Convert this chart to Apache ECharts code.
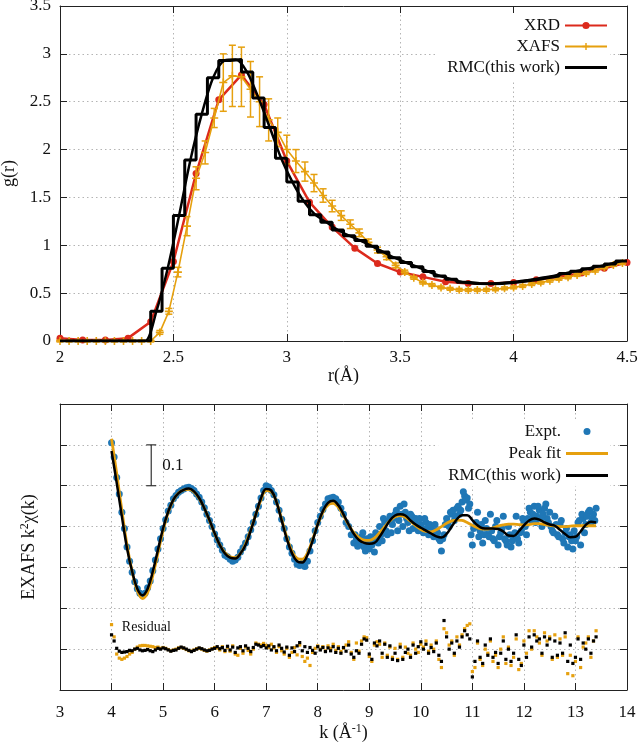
<!DOCTYPE html>
<html><head><meta charset="utf-8">
<script src="https://cdn.jsdelivr.net/npm/echarts@6/dist/echarts.min.js"></script>
<style>html,body{margin:0;padding:0;background:#fff}#c{width:640px;height:743px}</style>
</head><body><div id="c"></div>
<script>
// ---------- top panel: g(r) ----------
const rXRD = [2.0,2.1,2.2,2.3,2.4,2.5,2.6,2.7,2.8,2.9,3.0,3.1,3.2,3.3,3.4,3.5,3.6,3.7,3.8,3.9,4.0,4.1,4.2,4.3,4.4,4.5];
const gXRD = [0.03,0.01,0.01,0.03,0.2,0.83,1.75,2.52,2.78,2.47,1.88,1.45,1.19,0.97,0.81,0.72,0.67,0.62,0.6,0.6,0.61,0.64,0.67,0.71,0.76,0.82];

const rXAFSstart = 2.0, rXAFSstep = 0.04;
const gXAFS = [0,0,0,0,0,0,0,0,0,0,0,0.09,0.31,0.72,1.2,1.7,1.97,2.33,2.70,2.77,2.76,2.63,2.50,2.31,2.18,2.00,1.88,1.77,1.65,1.52,1.41,1.31,1.22,1.13,1.03,0.95,0.88,0.79,0.72,0.66,0.61,0.585,0.56,0.545,0.535,0.533,0.533,0.535,0.54,0.55,0.56,0.575,0.595,0.61,0.63,0.65,0.665,0.69,0.71,0.735,0.77,0.795,0.815];
const eXAFS = [0.01,0.01,0.01,0.01,0.01,0.01,0.01,0.01,0.01,0.01,0.01,0.02,0.03,0.05,0.1,0.12,0.12,0.1,0.3,0.32,0.31,0.29,0.26,0.22,0.15,0.15,0.12,0.1,0.09,0.07,0.06,0.05,0.045,0.04,0.035,0.03,0.03,0.025,0.02,0.015,0.015,0.015,0.015,0.015,0.015,0.015,0.015,0.015,0.015,0.015,0.015,0.015,0.015,0.015,0.015,0.015,0.015,0.015,0.015,0.015,0.015,0.015,0.015];

const rRMCstart = 2.0, rRMCbin = 0.05;
const gRMC = [0,0,0,0,0,0,0,0,0.31,0.76,1.31,1.89,2.37,2.75,2.93,2.94,2.81,2.54,2.23,1.91,1.66,1.46,1.32,1.24,1.16,1.10,1.05,0.99,0.93,0.87,0.82,0.775,0.725,0.68,0.645,0.615,0.60,0.598,0.60,0.61,0.625,0.64,0.66,0.68,0.705,0.73,0.755,0.78,0.805,0.835];

// ---------- bottom panel: EXAFS ----------
const kCurveStart = 4.0, kCurveStep = 0.1;
const peakFit = [0.215,0.13,0.04,-0.045,-0.11,-0.157,-0.176,-0.162,-0.12,-0.065,
-0.01,0.035,0.065,0.082,0.09,0.091,0.085,0.069,0.045,0.015,
-0.017,-0.045,-0.064,-0.074,-0.076,-0.066,-0.042,-0.008,0.03,0.066,
0.088,0.085,0.06,0.018,-0.026,-0.06,-0.078,-0.08,-0.065,-0.032,
0.005,0.035,0.053,0.057,0.047,0.027,0.004,-0.015,-0.027,-0.033,
-0.034,-0.028,-0.015,0.0,0.014,0.024,0.027,0.023,0.013,0.002,
-0.007,-0.012,-0.013,-0.008,0.0,0.008,0.014,0.016,0.015,0.01,
0.003,-0.003,-0.006,-0.006,-0.003,0.001,0.004,0.006,0.006,0.005,
0.004,0.005,0.007,0.007,0.005,0.003,0.001,0.0,0.0,0.001,
0.002,0.002,0.002,0.002,0.002];
const rmcChi = [0.185,0.107,0.025,-0.053,-0.11,-0.152,-0.168,-0.152,-0.11,-0.057,
-0.004,0.037,0.066,0.082,0.09,0.093,0.086,0.07,0.045,0.016,
-0.016,-0.045,-0.066,-0.076,-0.078,-0.066,-0.045,-0.01,0.03,0.07,
0.092,0.088,0.06,0.015,-0.03,-0.065,-0.085,-0.088,-0.07,-0.035,
0.005,0.038,0.058,0.063,0.052,0.03,0.005,-0.018,-0.033,-0.04,
-0.042,-0.04,-0.025,-0.005,0.015,0.027,0.03,0.027,0.015,0.005,
-0.003,-0.01,-0.017,-0.024,-0.027,-0.018,0.0,0.018,0.028,0.028,
0.016,0.003,-0.004,-0.005,-0.005,-0.006,-0.012,-0.022,-0.023,-0.012,
0.003,0.015,0.02,0.017,0.01,0.005,0.002,-0.008,-0.018,-0.026,
-0.025,-0.012,0.004,0.012,0.01];

const kExpStart = 4.0, kExpStep = 0.05;
const expt = [0.205,0.17,0.12,0.08,0.035,-0.005,-0.05,-0.085,-0.112,-0.135,
-0.152,-0.163,-0.168,-0.163,-0.15,-0.133,-0.108,-0.082,-0.055,-0.03,
-0.005,0.017,0.038,0.052,0.068,0.076,0.084,0.088,0.092,0.095,
0.096,0.093,0.088,0.08,0.072,0.06,0.046,0.03,0.015,0.0,
-0.018,-0.033,-0.045,-0.058,-0.07,-0.074,-0.08,-0.085,-0.082,-0.075,
-0.062,-0.052,-0.04,-0.025,-0.008,0.01,0.03,0.05,0.07,0.088,
0.1,0.097,0.088,0.078,0.06,0.04,0.018,-0.005,-0.03,-0.05,
-0.065,-0.08,-0.092,-0.095,-0.09,-0.098,-0.085,-0.06,-0.035,-0.01,
0.01,0.025,0.042,0.055,0.068,0.07,0.072,0.068,0.06,0.045,
0.03,0.01,0.0,-0.02,-0.04,-0.03,-0.045,-0.025,-0.05,-0.03,
-0.055,-0.045,-0.062,-0.03,0.0,-0.035,0.01,-0.02,0.025,0.005,
0.03,-0.01,0.05,0.0,0.035,0.01,0.03,-0.005,0.02,-0.01,
0.005,-0.015,0.01,-0.02,-0.005,-0.025,-0.01,-0.03,-0.06,-0.02,
0.02,0.0,0.03,0.015,0.045,0.03,0.06,0.075,0.07,0.055,
-0.045,0.0,0.035,-0.01,-0.04,0.015,-0.02,0.03,-0.03,0.0,
-0.045,-0.015,0.025,-0.035,0.0,-0.05,-0.02,0.025,-0.04,-0.01,
0.01,-0.02,0.045,0.015,0.05,0.025,0.04,0.0,0.045,0.02,
0.035,-0.01,0.025,-0.02,0.005,-0.03,-0.015,-0.05,-0.02,-0.055,
-0.035,0.01,-0.045,0.02,0.005,0.035,0.01,0.03,0.045];
const kExp2Start = 8.725, kExp2Step = 0.05;
const expt2 = [-0.02,-0.048,-0.035,-0.015,-0.06,-0.04,-0.025,-0.035,-0.015,-0.04,
-0.02,0.02,-0.01,0.015,-0.015,0.02,0.04,0.015,0.03,0.055,
0.02,-0.01,0.025,0.015,0.005,0.02,-0.005,0.02,-0.005,0.005,
-0.02,0.005,-0.015,-0.035,-0.03,0.005,0.01,0.035,0.04,0.025,
0.05,0.04,0.085,0.065,0.045,-0.02,-0.005,0.01,-0.025,0.005,
-0.02,-0.005,-0.025,-0.01,-0.035,0.015,-0.025,-0.005,-0.03,-0.045,
-0.02,-0.035,-0.015,-0.03,-0.015,0.02,0.0,0.02,0.035,0.03,
0.01,0.05,0.02,0.03,0.055,0.01,0.0,-0.015,0.005,-0.025,
0.015,-0.04,-0.005,-0.025,-0.035,-0.01,-0.025,0.015,0.03,-0.015,
0.025,0.04,0.02,0.015];

const residualOffset = -0.3;
const resRMC = [0.035,0.02,0.002,-0.005,-0.008,-0.007,-0.006,-0.003,-0.004,0.0,
0.002,-0.002,-0.004,-0.003,-0.001,-0.004,-0.006,-0.002,0.002,0.0,
0.003,0.001,-0.002,-0.005,-0.003,-0.002,0.002,0.005,0.003,0.0,
-0.003,-0.006,-0.003,0.0,0.003,0.001,-0.002,-0.004,-0.003,0.0,
0.002,0.006,0.001,0.004,-0.003,0.007,-0.002,0.005,-0.008,0.003,
0.006,-0.004,0.008,0.002,-0.006,0.004,0.012,0.01,0.006,0.009,
0.003,0.008,-0.002,0.006,-0.004,0.01,0.002,-0.007,0.005,-0.015,
0.003,-0.006,0.008,0.016,-0.004,0.006,-0.008,0.004,-0.003,-0.01,
0.006,-0.002,0.004,-0.006,0.003,-0.004,0.006,-0.008,0.002,-0.01,
0.004,-0.005,0.01,-0.012,-0.02,-0.004,-0.01,0.012,0.025,0.022,
-0.012,-0.025,0.015,0.008,0.02,-0.01,0.012,-0.02,0.008,-0.025,
-0.01,-0.028,0.005,-0.025,-0.008,0.0,-0.02,0.01,-0.01,0.006,
0.018,0.0,0.012,-0.01,0.004,-0.006,0.015,-0.015,-0.03,0.07,
0.03,0.0,0.015,-0.01,0.02,0.005,0.03,0.045,0.035,0.025,
-0.068,-0.03,0.02,-0.02,-0.035,0.01,-0.015,0.025,-0.02,-0.008,
-0.035,-0.01,0.02,-0.025,0.0,-0.03,-0.01,0.035,-0.025,-0.04,
0.01,-0.02,0.03,0.005,0.035,0.02,0.025,-0.01,0.03,0.01,
0.025,-0.02,0.02,-0.015,0.015,-0.01,0.04,-0.03,0.01,-0.035,
-0.02,0.025,-0.025,0.015,0.0,0.025,-0.01,0.02,0.03];
const resPF = [0.06,0.03,-0.012,-0.022,-0.025,-0.022,-0.018,-0.012,-0.008,0.0,
0.005,0.008,0.009,0.009,0.008,0.007,0.006,0.004,0.005,0.002,
0.004,0.002,-0.001,-0.004,-0.002,0.0,0.003,0.004,0.002,-0.001,
-0.004,-0.005,-0.002,0.001,0.002,0.0,-0.003,-0.005,-0.002,0.001,
0.004,0.003,-0.002,0.006,-0.006,0.004,-0.005,0.008,-0.012,-0.015,
0.002,-0.01,0.005,-0.003,-0.012,0.0,0.015,0.012,0.01,0.014,
0.009,0.004,0.012,0.003,-0.008,0.006,-0.004,-0.012,0.002,-0.02,
-0.008,0.004,-0.014,0.01,-0.018,-0.03,-0.022,-0.04,-0.008,0.002,
0.008,0.0,0.006,-0.004,0.008,0.002,0.012,-0.003,0.006,-0.006,
0.002,0.01,0.018,-0.008,-0.025,0.015,-0.005,0.02,0.03,0.028,
-0.018,-0.03,0.01,0.018,0.012,-0.02,0.015,-0.015,0.005,-0.02,
0.002,-0.025,0.012,-0.02,0.005,-0.01,-0.015,0.015,0.0,-0.008,
0.012,0.005,0.02,-0.005,0.01,0.0,0.02,-0.025,-0.045,0.05,
0.04,0.01,0.02,-0.015,0.03,0.01,0.035,0.05,0.058,0.062,
-0.055,-0.045,0.015,-0.025,-0.04,0.0,-0.01,0.02,-0.03,-0.015,
-0.045,0.0,0.03,-0.035,0.005,-0.04,-0.02,0.025,-0.05,-0.035,
0.02,-0.01,0.045,0.0,0.045,0.03,0.015,-0.015,0.04,0.02,
0.03,-0.025,0.035,-0.02,0.025,-0.015,0.03,-0.06,-0.015,-0.065,
-0.03,0.03,-0.045,0.005,0.015,0.03,-0.02,0.02,0.045];

const scaleBar = [[4.77, 0.1, 0.2, '0.1']];
const residualNote = [[4.2, -0.247, 'Residual']];

// ---------- build ----------
const r3 = v => Math.round(v * 1000) / 1000;
const onGrid = (vals, start, step, off) => vals.map((v, i) => [r3(start + i * step), v + (off || 0)]);

const RED = '#dc2a1c', ORANGE = '#e6a00e', BLUE = '#1f77b6', BLACK = '#000';
const FONT = 'Liberation Serif';
const gridLine = {show: true, lineStyle: {color: '#b4b4b4', type: [1.5, 3], width: 1}};
const lbl = {fontFamily: FONT, fontSize: 17, color: '#111'};
const plusPath = 'path://M4,0h2v4h4v2h-4v4h-2v-4h-4v-2h4z';
const dotIcon = 'path://M0,0M9,9M1,4.5a3.5,3.5 0 1,0 7,0a3.5,3.5 0 1,0 -7,0';
const thickLineIcon = 'path://M0,0h42v3.2h-42z';
const fitLineIcon = 'path://M0,0h42v3h-42z';

const rmcStep = gRMC.map((v, i) => [r3(rRMCstart + i * rRMCbin), v]);
rmcStep.push([r3(rRMCstart + gRMC.length * rRMCbin), gRMC[gRMC.length - 1]]);
const rmcCenters = gRMC.map((v, i) => [r3(rRMCstart + (i + 0.5) * rRMCbin), v]);
const xafsPts = onGrid(gXAFS, rXAFSstart, rXAFSstep);
const xafsErr = gXAFS.map((v, i) => [r3(rXAFSstart + i * rXAFSstep), v, eXAFS[i]]);

const nameStyle = {fontFamily: FONT, fontSize: 18, color: '#111',
  rich: {a: {fontFamily: FONT, fontSize: 18, color: '#111'}, sup: {fontFamily: FONT, fontSize: 12, color: '#111', padding: [0, 0, 9, 0]}}};

function axisX(grid, pos, min, max, interval, showLabel, margin, name, nameGap) {
  return {type: 'value', gridIndex: grid, position: pos, min, max, interval,
    axisLine: {show: true, onZero: false, lineStyle: {color: '#222', width: 1}},
    axisTick: {show: true, inside: true, length: 7, lineStyle: {color: '#222'}},
    axisLabel: Object.assign({show: showLabel, margin}, lbl),
    splitLine: showLabel ? gridLine : {show: false},
    name: name || '', nameLocation: 'middle', nameGap: nameGap || 0, nameTextStyle: nameStyle};
}
function axisY(grid, pos, min, max, interval, showLabel, margin, withGrid, name, nameGap) {
  return {type: 'value', gridIndex: grid, position: pos, min, max, interval,
    axisLine: {show: true, onZero: false, lineStyle: {color: '#222', width: 1}},
    axisTick: {show: true, inside: true, length: 7, lineStyle: {color: '#222'}},
    axisLabel: Object.assign({show: showLabel, margin}, lbl),
    splitLine: withGrid ? gridLine : {show: false},
    name: name || '', nameLocation: 'middle', nameGap: nameGap || 0, nameRotate: 90, nameTextStyle: nameStyle};
}

const option = {
  animation: false,
  backgroundColor: '#fff',
  grid: [
    {left: 60, top: 6, width: 567, height: 335, containLabel: false, outerBoundsMode: 'none'},
    {left: 60, top: 404, width: 567, height: 286, containLabel: false, outerBoundsMode: 'none'}
  ],
  xAxis: [
    axisX(0, 'bottom', 2, 4.5, 0.5, true, 8, 'r(Å)', 19),
    axisX(0, 'top', 2, 4.5, 0.5, false, 8),
    axisX(1, 'bottom', 3, 14, 1, true, 14, '{a|k (Å}{sup|-1}{a|)}', 33),
    axisX(1, 'top', 3, 14, 1, false, 8)
  ],
  yAxis: [
    axisY(0, 'left', 0, 3.5, 0.5, true, 9, true, 'g(r)', 42),
    axisY(0, 'right', 0, 3.5, 0.5, false, 8, false),
    axisY(1, 'left', -0.4, 0.3, 0.1, false, 8, true, '{a|EXAFS k}{sup|2}{a|χ(k)}', 20),
    axisY(1, 'right', -0.4, 0.3, 0.1, false, 8, false)
  ],
  legend: [
    {data: ['XRD', 'XAFS', {name: 'RMC(this work)', icon: thickLineIcon}], orient: 'vertical', right: 30, top: 13, align: 'right',
     itemWidth: 42, itemHeight: 9, itemGap: 4, selectedMode: false, z: 1,
     backgroundColor: '#fff', padding: [4, 2, 6, 10], textStyle: {fontFamily: FONT, fontSize: 17, color: '#111'}},
    {data: [{name: 'Expt.', icon: dotIcon, itemStyle: {color: BLUE}}, {name: 'Peak fit', icon: fitLineIcon}, {name: 'RMC(this work)', icon: thickLineIcon}],
     orient: 'vertical', right: 30, top: 419, align: 'right',
     itemWidth: 42, itemHeight: 9, itemGap: 5, selectedMode: false, z: 1,
     backgroundColor: '#fff', padding: [4, 2, 2, 10], textStyle: {fontFamily: FONT, fontSize: 17, color: '#111'}}
  ],
  series: [
    {name: 'XRD', type: 'line', xAxisIndex: 0, yAxisIndex: 0, data: rXRD.map((r, i) => [r, gXRD[i]]),
     symbol: 'circle', symbolSize: 7, itemStyle: {color: RED}, lineStyle: {color: RED, width: 2.5}, z: 3},
    {name: 'XAFS err', type: 'custom', xAxisIndex: 0, yAxisIndex: 0, data: xafsErr, encode: {x: 0, y: 1}, z: 4,
     renderItem: (p, api) => {
       const x = api.value(0), y = api.value(1), e = api.value(2);
       const lo = api.coord([x, y - e]), hi = api.coord([x, y + e]), w = 3.5;
       const st = {stroke: ORANGE, lineWidth: 1.5};
       return {type: 'group', children: [
         {type: 'line', shape: {x1: lo[0], y1: lo[1], x2: hi[0], y2: hi[1]}, style: st},
         {type: 'line', shape: {x1: lo[0] - w, y1: lo[1], x2: lo[0] + w, y2: lo[1]}, style: st},
         {type: 'line', shape: {x1: hi[0] - w, y1: hi[1], x2: hi[0] + w, y2: hi[1]}, style: st}]};
     }},
    {name: 'XAFS', type: 'line', xAxisIndex: 0, yAxisIndex: 0, data: xafsPts,
     symbol: plusPath, symbolSize: 8, itemStyle: {color: ORANGE}, lineStyle: {color: ORANGE, width: 1.6}, z: 4},
    {name: 'RMC(this work)', type: 'line', xAxisIndex: 0, yAxisIndex: 0, data: rmcStep, step: 'end',
     symbol: 'none', lineStyle: {color: BLACK, width: 3}, itemStyle: {color: BLACK}, z: 5},
    {name: 'RMC(this work)', type: 'line', xAxisIndex: 0, yAxisIndex: 0, data: rmcCenters, smooth: 0.3,
     symbol: 'none', lineStyle: {color: BLACK, width: 2.5}, itemStyle: {color: BLACK}, z: 5},

    {name: 'Expt.', type: 'scatter', xAxisIndex: 2, yAxisIndex: 2, data: onGrid(expt, kExpStart, kExpStep),
     symbol: 'circle', symbolSize: 7, itemStyle: {color: BLUE, opacity: 1}, z: 2},
    {name: 'Expt.', type: 'scatter', xAxisIndex: 2, yAxisIndex: 2, data: onGrid(expt2, kExp2Start, kExp2Step),
     symbol: 'circle', symbolSize: 7, itemStyle: {color: BLUE, opacity: 1}, z: 2},
    {name: 'Peak fit', type: 'line', xAxisIndex: 2, yAxisIndex: 2, data: onGrid(peakFit, kCurveStart, kCurveStep),
     smooth: 0.4, symbol: 'none', lineStyle: {color: ORANGE, width: 2.8}, itemStyle: {color: ORANGE}, z: 3},
    {name: 'RMC chi', type: 'line', xAxisIndex: 2, yAxisIndex: 2, data: onGrid(rmcChi, kCurveStart, kCurveStep),
     smooth: 0.4, symbol: 'none', lineStyle: {color: BLACK, width: 2.5}, itemStyle: {color: BLACK}, z: 4},
    {name: 'res PF', type: 'scatter', xAxisIndex: 2, yAxisIndex: 2, data: onGrid(resPF, kExpStart, kExpStep, residualOffset),
     symbol: 'rect', symbolSize: 3.2, itemStyle: {color: ORANGE, opacity: 1}, z: 3},
    {name: 'res RMC', type: 'scatter', xAxisIndex: 2, yAxisIndex: 2, data: onGrid(resRMC, kExpStart, kExpStep, residualOffset),
     symbol: 'rect', symbolSize: 3.2, itemStyle: {color: BLACK, opacity: 1}, z: 4},
    {name: 'scale bar', type: 'custom', xAxisIndex: 2, yAxisIndex: 2, data: scaleBar, encode: {x: 0, y: 1}, z: 5,
     renderItem: (p, api) => {
       const d = scaleBar[p.dataIndex];
       const lo = api.coord([d[0], d[1]]), hi = api.coord([d[0], d[2]]), w = 5;
       const st = {stroke: '#333', lineWidth: 1.2};
       return {type: 'group', children: [
         {type: 'line', shape: {x1: lo[0], y1: lo[1], x2: hi[0], y2: hi[1]}, style: st},
         {type: 'line', shape: {x1: lo[0] - w, y1: lo[1], x2: lo[0] + w, y2: lo[1]}, style: st},
         {type: 'line', shape: {x1: hi[0] - w, y1: hi[1], x2: hi[0] + w, y2: hi[1]}, style: st},
         {type: 'text', x: lo[0] + 11, y: (lo[1] + hi[1]) / 2,
          style: {text: d[3], fill: '#111', font: '17px "Liberation Serif"', textAlign: 'left', textVerticalAlign: 'middle'}}]};
     }},
    {name: 'res note', type: 'custom', xAxisIndex: 2, yAxisIndex: 2, data: residualNote, encode: {x: 0, y: 1}, z: 5,
     renderItem: (p, api) => {
       const d = residualNote[p.dataIndex];
       const c = api.coord([d[0], d[1]]);
       return {type: 'text', x: c[0], y: c[1],
         style: {text: d[2], fill: '#111', font: '14px "Liberation Serif"', textAlign: 'left', textVerticalAlign: 'middle'}};
     }}
  ]
};
const chart = echarts.init(document.getElementById('c'), null, {renderer: 'canvas'});
chart.setOption(option);
</script></body></html>
